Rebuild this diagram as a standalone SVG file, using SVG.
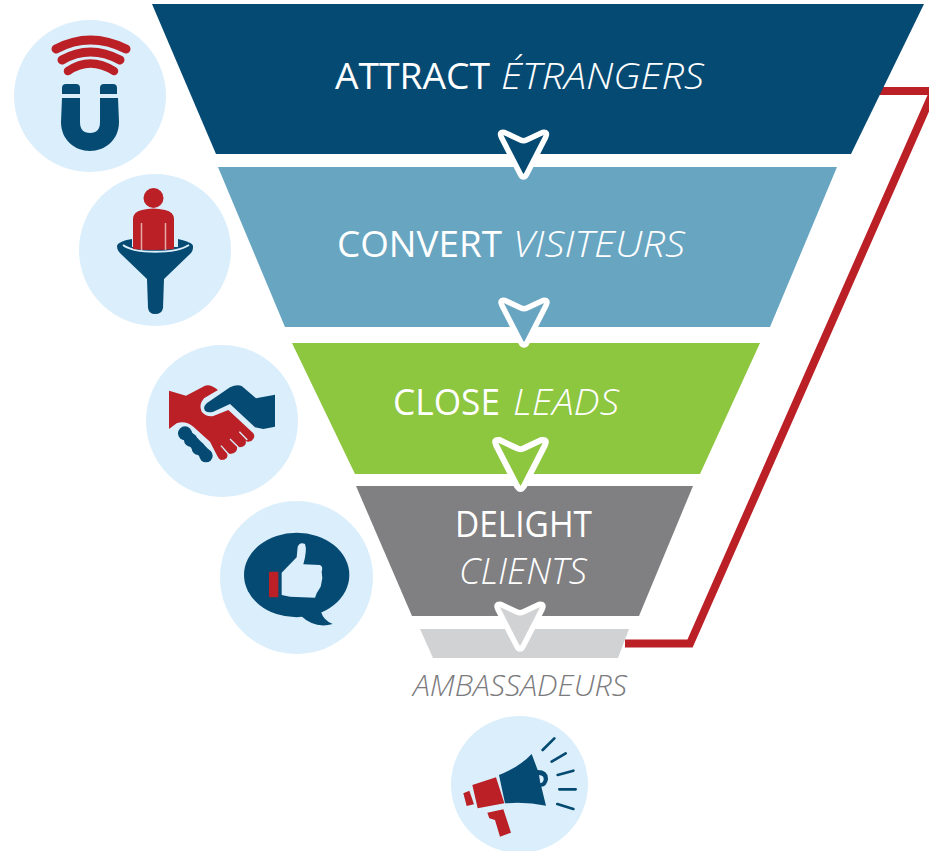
<svg xmlns="http://www.w3.org/2000/svg" width="929" height="851" viewBox="0 0 929 851">
<style>
.disc{fill:#daeefb}
.red{fill:#ba2026}
.navy{fill:#054a72}
.lt{fill:#daeefb}
.arc{fill:none;stroke:#ba2026;stroke-linecap:round}
.ray{fill:none;stroke:#054a72;stroke-width:8;stroke-linecap:round}
.cut{fill:none;stroke:#daeefb;stroke-width:4}
.arrow{stroke:#fff;stroke-width:5.500;stroke-linejoin:round}
text{font-family:"Open Sans","Liberation Sans",sans-serif;font-size:37px;fill:#fff}
.i{font-style:italic;font-weight:300}
</style>
<defs>
<path id="chev" d="M-22,6Q-25,0 -19,1L-3,8.500Q0,10 3,8.500L19,1Q25,0 22,6L3,43Q0,48 -3,43Z"/>
</defs>
<rect width="929" height="851" fill="#fff"/>
<g id="connectors">
<path id="feedback" d="M625,643.500H690L935,88M878,91H935" fill="none" stroke="#ba2026" stroke-width="8"/>
</g>
<g id="stage-attract">
<polygon points="152,4 924,4 851,154 216,154" fill="#054a72"/>
<text x="335" y="89" textLength="155" lengthAdjust="spacingAndGlyphs">ATTRACT</text>
<text x="501" y="89" class="i" textLength="203" lengthAdjust="spacingAndGlyphs">ÉTRANGERS</text>
</g>
<g id="stage-convert">
<polygon points="218,167 837,167 770,327 285,327" fill="#67a5c1"/>
<text x="337" y="257" textLength="165" lengthAdjust="spacingAndGlyphs">CONVERT</text>
<text x="513" y="257" class="i" textLength="172" lengthAdjust="spacingAndGlyphs">VISITEURS</text>
</g>
<g id="stage-close">
<polygon points="292,343 760,343 700,474 355,474" fill="#8dc63f"/>
<text x="393" y="415" textLength="107" lengthAdjust="spacingAndGlyphs">CLOSE</text>
<text x="513" y="415" class="i" textLength="106" lengthAdjust="spacingAndGlyphs">LEADS</text>
</g>
<g id="stage-delight">
<polygon points="356,486 693,486 639,616 412,616" fill="#808082"/>
<text x="455" y="537" textLength="137" lengthAdjust="spacingAndGlyphs">DELIGHT</text>
<text x="459" y="584" class="i" textLength="128" lengthAdjust="spacingAndGlyphs">CLIENTS</text>
</g>
<g id="stage-ambassadeurs">
<polygon points="420,629 629,629 618,658 433,658" fill="#d1d2d4"/>
<text x="413" y="696" class="i" style="fill:#7b7b7d;font-size:29px" textLength="214" lengthAdjust="spacingAndGlyphs">AMBASSADEURS</text>
</g>
<g id="arrow-1"><use href="#chev" class="arrow" fill="#054a72" transform="translate(523.500 131.500)"/></g>
<g id="arrow-2"><use href="#chev" class="arrow" fill="#67a5c1" transform="translate(524 299.500)"/></g>
<g id="arrow-3"><use href="#chev" class="arrow" fill="#8dc63f" transform="translate(520.500 439) scale(1.100)"/></g>
<g id="arrow-4"><use href="#chev" class="arrow" fill="#d1d2d4" transform="translate(520 603.500)"/></g>
<g id="icon-magnet">
<circle class="disc" cx="90" cy="96" r="76"/>
<path class="arc" stroke-width="9" d="M56,49Q90,31 126,49"/>
<path class="arc" stroke-width="9" d="M62,60Q90,44 120,60"/>
<path class="arc" stroke-width="8.500" d="M68,71Q90,56 114,71"/>
<path class="navy" d="M62,94V88Q62,84 66,84H76Q80,84 80,88V94Z M100,94V88Q100,84 104,84H113Q117,84 117,88V94Z"/>
<path class="navy" d="M62,98H80V122Q80,133 90,133Q100,133 100,122V98H118L119,122C119,140 105,151 90,151C75,151 61,140 61,122Z"/>
</g>
<g id="icon-funnel">
<circle class="disc" cx="155" cy="250" r="76"/>
<path class="navy" d="M132,239C125,240 117,243 117,246C117,250 119,252 122,255L147,279L148,308Q149,314 155,314Q162,314 163,308L164,279L190,254C193,251 193,249 193,246C193,243 186,241 178,239V247H132Z"/>
<path d="M123,245C135,254 175,254 189,245" fill="none" stroke="#daeefb" stroke-width="2"/>
<circle class="red" cx="153.500" cy="198" r="10"/>
<path class="red" d="M133,249V219Q133,212 142,210Q153,207 165,210Q174,212 174,219V249Q153,251 133,249Z"/>
<path d="M141.500,223V250M165.500,223V250" stroke="#e8a9ab" stroke-width="1.500" fill="none"/>
</g>
<g id="icon-handshake">
<circle class="disc" cx="222" cy="421" r="76"/>
<g transform="translate(130 330) scale(.33333)">
<path class="red" d="M117,182L168,197L225,167Q242,162 264,180L222,205Q205,225 215,245Q230,262 250,258L295,240L370,310Q378,322 365,332Q352,338 347,332Q352,348 330,352L322,350Q322,370 300,372L292,368Q296,390 275,390Q268,390 262,378L240,335L190,290Q165,270 140,280L117,297Z"/>
<path class="navy" d="M435,194L378,205L335,168Q320,162 300,172L230,220Q218,232 225,242Q235,250 250,245L300,222L375,292L400,297L435,290Z"/>
<path d="M328,305L352,330M300,327L325,352M273,347L295,372" class="cut"/>
<path d="M165,310L228,375" stroke="#054a72" stroke-width="34" stroke-linecap="round"/>
<circle class="navy" cx="165" cy="310" r="21"/><circle class="navy" cx="182" cy="330" r="20"/><circle class="navy" cx="205" cy="355" r="20"/><circle class="navy" cx="228" cy="377" r="20"/>
</g>
</g>
<g id="icon-thumb">
<circle class="disc" cx="296.500" cy="577.500" r="76.500"/>
<g transform="translate(130 330) scale(.33333)">
<ellipse class="navy" cx="500" cy="735" rx="158" ry="127"/>
<path class="navy" d="M510,855Q555,898 608,882Q580,870 573,845Z"/>
<rect class="red" x="417" y="725" width="28" height="77" rx="3"/>
<path class="lt" d="M455,728L500,682L503,650Q510,635 525,642Q532,660 520,703L570,705Q580,710 575,725L577,745L572,770L560,790L555,803L480,800L455,795Z"/>
</g>
</g>
<g id="icon-megaphone">
<circle class="disc" cx="519.500" cy="784.500" r="68.500"/>
<g transform="translate(400 590) scale(.33333)">
<path class="navy" d="M297,555Q360,530 395,492L413,540Q445,540 444,568Q440,590 424,590L438,647Q380,635 315,640Z"/>
<path class="lt" d="M417,555Q432,556 431,568Q430,578 421,580Z"/>
<path class="red" d="M217,585L288,562L313,640L233,655Z M190,610L208,602L222,643L200,648Z M262,668L310,658L333,728L300,740L285,690L268,685Z"/>
<path class="ray" d="M428,480L463,445M455,515L497,490M473,555L520,542M478,598L527,598M472,642L520,657"/>
</g>
</g>
</svg>
